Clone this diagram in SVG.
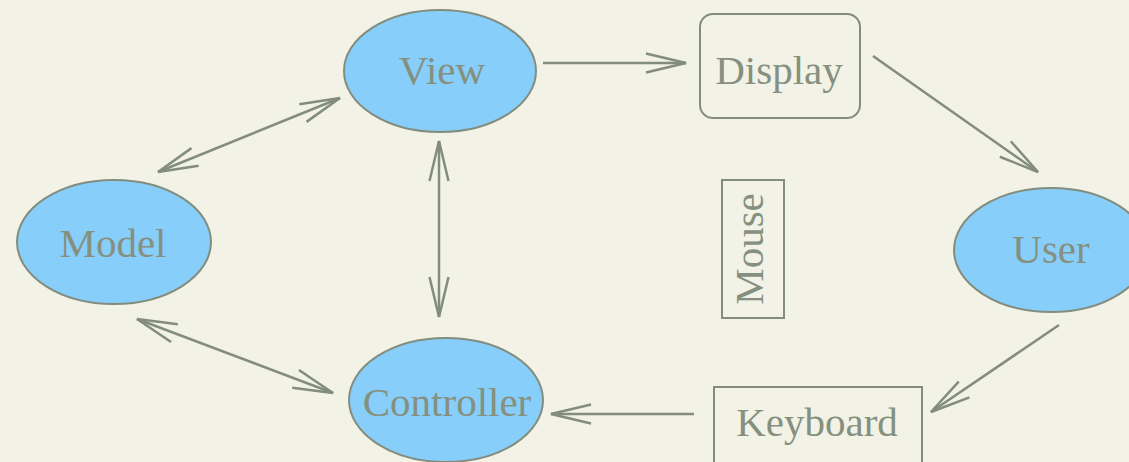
<svg xmlns="http://www.w3.org/2000/svg" width="1129" height="462" viewBox="0 0 1129 462">
<style>
.node ellipse{fill:#87cefa;stroke:#838d7e;stroke-width:2}
.box{fill:none;stroke:#838d7e;stroke-width:2}
text{font-family:"Liberation Serif","Times New Roman",serif;font-size:41px;fill:#85907f;text-anchor:middle}
.edges line{stroke:#838d7e;stroke-width:2.5;fill:none}
</style>
<defs>
<marker id="ah" markerUnits="userSpaceOnUse" markerWidth="50" markerHeight="30" viewBox="-45 -15 50 30" refX="0" refY="0" orient="auto-start-reverse">
<path d="M-40,-9.5 L0,0 L-40,9.5" fill="none" stroke="#838d7e" stroke-width="2.5"/>
</marker>
</defs>
<rect width="1129" height="462" fill="#f2f2e6"/>
<g class="edges">
<line x1="543" y1="63" x2="686" y2="63" marker-end="url(#ah)"/>
<line x1="873" y1="56" x2="1038" y2="172" marker-end="url(#ah)"/>
<line x1="1059" y1="325" x2="931" y2="412" marker-end="url(#ah)"/>
<line x1="694" y1="414" x2="551" y2="414" marker-end="url(#ah)"/>
<line x1="158" y1="172" x2="340" y2="98" marker-start="url(#ah)" marker-end="url(#ah)"/>
<line x1="137" y1="319" x2="333" y2="393" marker-start="url(#ah)" marker-end="url(#ah)"/>
<line x1="439" y1="141" x2="439" y2="317" marker-start="url(#ah)" marker-end="url(#ah)"/>
</g>
<g id="view" class="node"><ellipse cx="440" cy="71" rx="96" ry="61"/><text x="442" y="84">View</text></g>
<g id="display"><rect class="box" x="700" y="14" width="160" height="104" rx="13"/><text x="779" y="84">Display</text></g>
<g id="user" class="node"><ellipse cx="1051" cy="250" rx="97" ry="62"/><text x="1051" y="263">User</text></g>
<g id="mouse"><rect class="box" x="722" y="180" width="62" height="138"/><text transform="translate(763,249) rotate(-90)" x="0" y="0">Mouse</text></g>
<g id="keyboard"><rect class="box" x="714" y="387" width="208" height="90"/><text x="817" y="436">Keyboard</text></g>
<g id="controller" class="node"><ellipse cx="446" cy="400" rx="97" ry="62"/><text x="447" y="416">Controller</text></g>
<g id="model" class="node"><ellipse cx="114" cy="242" rx="97" ry="62"/><text x="113" y="257">Model</text></g>
</svg>
